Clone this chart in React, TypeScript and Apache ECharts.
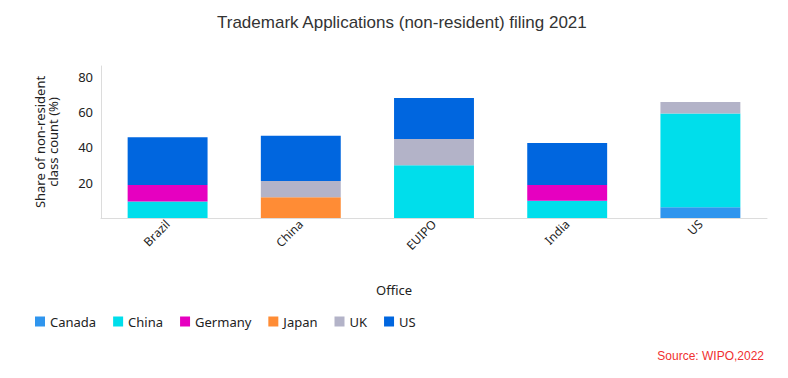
import React, { useEffect, useRef } from "react";
import * as echarts from "echarts";

const offices = ["Brazil", "China", "EUIPO", "India", "US"];
const canada = [0, 0, 0, 0, 6.1];
const china = [9.3, 0, 29.9, 9.8, 53.0];
const germany = [9.35, 0, 0, 8.85, 0];
const japan = [0, 11.7, 0, 0, 0];
const uk = [0, 9.2, 14.8, 0, 6.5];
const us = [27.1, 25.6, 23.2, 23.8, 0];
const yTicks = [20, 40, 60, 80];

const seriesDefs = [
  { name: "Canada", data: canada, color: "#2F95EE" },
  { name: "China", data: china, color: "#00DEEB" },
  { name: "Germany", data: germany, color: "#E600C0" },
  { name: "Japan", data: japan, color: "#FF8C35" },
  { name: "UK", data: uk, color: "#B3B3C8" },
  { name: "US", data: us, color: "#0066DF" },
];

export default function App() {
  const ref = useRef<HTMLDivElement>(null);
  useEffect(() => {
    if (!ref.current) return;
    const chart = echarts.init(ref.current, null, { renderer: "svg" });
    const font = "Noto Sans";
    chart.setOption({
      animation: false,
      title: {
        text: "Trademark Applications (non-resident) filing 2021",
        left: 212,
        top: 9,
        textStyle: { fontFamily: "Liberation Sans", fontSize: 17, fontWeight: "normal", color: "#333" },
      },
      grid: { left: 101, right: 21, top: 66, bottom: 160 },
      legend: {
        left: 30,
        top: 310,
        itemWidth: 10,
        itemHeight: 10,
        itemGap: 17,
        icon: "rect",
        textStyle: { fontFamily: font, fontSize: 13, color: "#222" },
        data: seriesDefs.map((s) => s.name),
      },
      xAxis: {
        type: "category",
        data: offices,
        axisLine: { show: true, lineStyle: { color: "#dcdcdc", width: 1 } },
        axisTick: { show: false },
        axisLabel: { rotate: 45, fontFamily: font, fontSize: 12, color: "#222", margin: 4 },
      },
      yAxis: {
        type: "value",
        min: 0,
        max: 86,
        interval: 20,
        name: "Share of non-resident\nclass count (%)",
        nameLocation: "middle",
        nameGap: 42,
        nameRotate: 90,
        nameTextStyle: { fontFamily: font, fontSize: 13, color: "#222", lineHeight: 13 },
        axisLine: { show: true, lineStyle: { color: "#dcdcdc", width: 1 } },
        axisTick: { show: false },
        splitLine: { show: false },
        axisLabel: {
          fontFamily: font,
          fontSize: 13,
          color: "#222",
          margin: 8,
          formatter: (v: number) => (yTicks.includes(v) ? String(v) : ""),
        },
      },
      graphic: [
        {
          type: "text",
          left: "center",
          top: 283,
          style: { text: "Office", font: "13px 'Noto Sans'", fill: "#222" },
        },
        {
          type: "text",
          right: 24,
          top: 350,
          style: { text: "Source: WIPO,2022", font: "12px 'Liberation Sans'", fill: "#F03030" },
        },
      ],
      series: seriesDefs.map((s) => ({
        name: s.name,
        type: "bar",
        stack: "total",
        barWidth: "60%",
        data: s.data.map((v) => (v === 0 ? null : v)),
        itemStyle: { color: s.color },
      })),
    });
    return () => chart.dispose();
  }, []);
  return (
    <div
      ref={ref}
      style={{ position: "absolute", left: 0, top: 0, width: 788, height: 378 }}
    />
  );
}
